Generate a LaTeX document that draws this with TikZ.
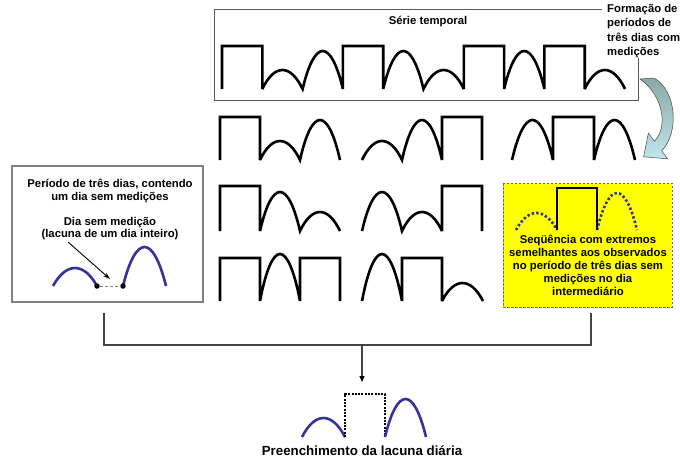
\documentclass[tikz,border=0pt]{standalone}
\usepackage{fontspec}
\setmainfont{Liberation Sans}
\usetikzlibrary{arrows.meta}
\definecolor{wblue}{HTML}{333399}
\definecolor{yfill}{HTML}{FFFF00}
\definecolor{ydash}{HTML}{6A6A9A}
\definecolor{aTop}{HTML}{8BA8A8}
\definecolor{aBot}{HTML}{C0E6EA}
\definecolor{brk}{HTML}{444444}
\tikzset{
  wave/.style={line width=2.6pt, miter limit=3},
  bwave/.style={wave, draw=wblue},
  bdots/.style={line width=2.6pt, draw=wblue, dash pattern=on 2.4pt off 2.2pt},
  wsq/.style 2 args={insert path={-- ++(0,-#2) -- ++(#1,0) -- ++(0,#2)}},
  warch/.style 2 args={insert path={.. controls +({0.3*#1},{-4*#2/3}) and +({-0.3*#1},{-4*#2/3}) .. ++(#1,0)}},
  lbl/.style={font=\fontsize{11.3}{13}\selectfont\bfseries, inner sep=0pt, align=center},
  leftlbl/.style={font=\fontsize{11.3}{12.5}\selectfont\bfseries, inner sep=0pt, align=center},
  bracket/.style={draw=brk, line width=1.2pt},
}
\begin{document}
\begin{tikzpicture}[x=1pt,y=-1pt]
\useasboundingbox (0,0) rectangle (680,459);

% top box (open at the corner where the label sits)
\draw[draw=gray!70!black, line width=0.9pt] (602,9) -- (214,9) -- (214,100) -- (638,100) -- (638,58);
\node[lbl, anchor=base] (serie) at (428,24) {Série temporal};
\node[lbl, anchor=north west, align=left, font=\fontsize{11.3}{14.4}\selectfont\bfseries] (form) at (607,4)
  {Formação de\\períodos de\\três dias com\\medições};

% time series
\draw[wave] (222,89) [wsq={40.3}{43}] [warch={40.3}{19}] [warch={40.3}{38}] [wsq={40.3}{43}]
  [warch={40.3}{38}] [warch={40.3}{19}] [wsq={40.3}{43}] [warch={40.3}{38}] [wsq={40.3}{43}] [warch={40.3}{19}];

% curved arrow
\path[draw=gray!55!black, line width=0.5pt, top color=aTop, bottom color=aBot]
  (640,79) -- (654,78) .. controls (676,90) and (680,132) .. (661.6,150.8)
  -- (667.6,158.8) -- (643.6,156.8) -- (648.4,133.2) -- (654.4,141.2)
  .. controls (668,128) and (664,96) .. (640,79) -- cycle;

% three-day periods
\draw[wave] (220,160) [wsq={40}{43}] [warch={40}{19}] [warch={40}{40}];
\draw[wave] (362,160) [warch={40}{19}] [warch={40}{40}] [wsq={40}{43}];
\draw[wave] (512,160) [warch={41}{40}] [wsq={41}{43}] [warch={41}{40}];

\draw[wave] (220,231) [wsq={40}{45}] [warch={40}{39}] [warch={40}{19}];
\draw[wave] (362,231) [warch={40}{39}] [warch={40}{19}] [wsq={40}{45}];

\draw[wave] (220,301) [wsq={40}{43}] [warch={40}{47}] [wsq={40}{43}];
\draw[wave] (362,301) [warch={40}{47}] [wsq={40}{43}] [warch={41}{18}];

% left box
\draw[draw=gray, line width=1.3pt] (12,166) rectangle (203,302);
\node[leftlbl, anchor=north] (lt1) at (110,179) {Período de três dias, contendo\\um dia sem medições};
\node[leftlbl, anchor=north] (lt2) at (110,217) {Dia sem medição\\(lacuna de um dia inteiro)};
\draw[bwave] (53,286) [warch={44}{18}];
\draw[bwave] (123,286) [warch={43}{39}];
\node[circle, fill=black, inner sep=0pt, minimum size=5.5pt] (d1) at (97,286) {};
\node[circle, fill=black, inner sep=0pt, minimum size=5.5pt] (d2) at (123,286) {};
\draw[gray, line width=1pt, dash pattern=on 3pt off 2pt] (d1) -- (d2);
\coordinate (ap) at (68,242);
\coordinate (aq) at (110,279);
\draw[line width=0.9pt, -{Stealth[length=7pt,width=4.5pt]}] (ap) -- (aq);

% yellow box
\draw[fill=yfill, draw=ydash, line width=0.8pt, dash pattern=on 2.5pt off 1.5pt] (503,183) rectangle (672,307);
\draw[bdots] (516,230) [warch={41}{17}];
\draw[bdots] (597,230) [warch={40}{37}];
\draw[wave] (557,230) [wsq={40}{42}];
\node[lbl, anchor=north] (ytext) at (588,235)
  {Seqüência com extremos\\semelhantes aos observados\\no período de três dias sem\\medições no dia\\intermediário};

% bracket and arrow
\coordinate (bl) at (104,313);
\coordinate (br) at (591,313);
\coordinate (bm) at (362,345);
\coordinate (fillpt) at (362,382);
\draw[bracket] (bl) -- (bl |- bm) -- (br |- bm) -- (br);
\draw[bracket, -{Triangle[length=6pt,width=5pt,black]}] (bm) -- (fillpt);

% filled gap
\draw[bwave] (302,437) [warch={43}{19}];
\draw[line width=2pt, dash pattern=on 2pt off 1.3pt] (345,437) [wsq={40}{43}];
\draw[bwave] (385,437) [warch={41}{38}];
\node[font=\fontsize{13.3}{15}\selectfont\bfseries, inner sep=0pt, anchor=base] (res) at (362,455) {Preenchimento da lacuna diária};
\end{tikzpicture}
\end{document}
